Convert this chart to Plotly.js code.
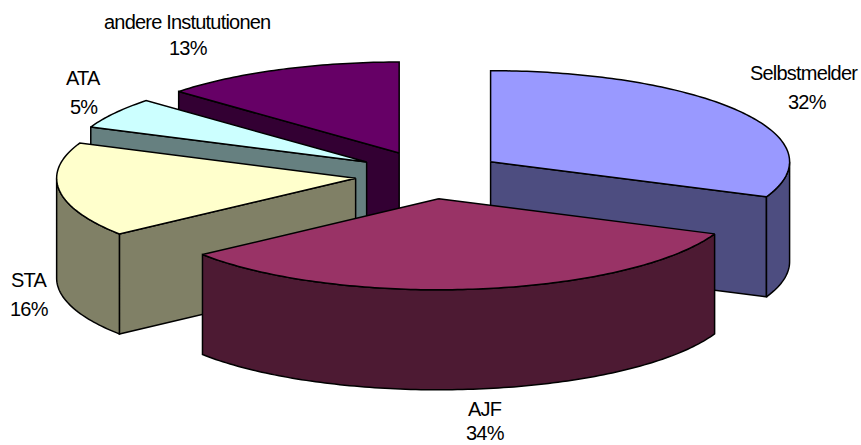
<!DOCTYPE html>
<html>
<head>
<meta charset="utf-8">
<script src="https://cdn.plot.ly/plotly-3.0.1.min.js"></script>
<style>
html,body{margin:0;padding:0;background:#fff}
#chart{width:861px;height:445px}
.annotation-text{letter-spacing:-0.8px}
</style>
</head>
<body>
<div id="chart"></div>
<script>
// Chart content
var categories = ["Selbstmelder", "AJF", "STA", "ATA", "andere Instututionen"];
var printedPercent = ["32%", "34%", "16%", "5%", "13%"];
var sliceShares = [31.3, 33.2, 16.8, 5.5, 13.2];
var topColors = ["#9999FF", "#993366", "#FFFFCC", "#CCFFFF", "#660066"];
var wallColors = ["#4D4D80", "#4D1A33", "#808066", "#668080", "#330033"];

// Projection of the tilted, exploded pie onto the plot scale
var pie = {cx: 429, cy: 175, rx: 299, ry: 91, depth: 100, explodeX: 74, explodeY: 24};
// Label anchors: [name x, name y, percent x, percent y]
var labelSpots = [[804, 73, 807, 102], [485, 409, 485, 433], [29, 280, 29, 309], [83, 78, 84, 107], [187, 22, 188, 48]];

var rad = Math.PI / 180;
function rim(c, deg, dy) {
  return [c[0] + pie.rx * Math.sin(deg * rad), c[1] - pie.ry * Math.cos(deg * rad) + (dy || 0)];
}
function polyTrace(pts, color) {
  var xs = pts.map(function (p) { return p[0]; });
  var ys = pts.map(function (p) { return p[1]; });
  xs.push(xs[0]); ys.push(ys[0]);
  return {
    type: "scatter", mode: "lines", x: xs, y: ys, fill: "toself", fillcolor: color,
    line: {color: "#000", width: 1.5, simplify: false}, hoverinfo: "skip", showlegend: false
  };
}
function arc(c, a, b, dy) {
  var pts = [], n = Math.max(2, Math.ceil(Math.abs(b - a)));
  for (var i = 0; i <= n; i++) pts.push(rim(c, a + (b - a) * i / n, dy));
  return pts;
}

var total = sliceShares.reduce(function (s, v) { return s + v; }, 0);
var start = 0;
var slices = sliceShares.map(function (v, i) {
  var sweep = v / total * 360, a = start, b = start + sweep, mid = a + sweep / 2;
  start = b;
  return {
    i: i, a: a, b: b, mid: mid,
    c: [pie.cx + pie.explodeX * Math.sin(mid * rad), pie.cy - pie.explodeY * Math.cos(mid * rad)]
  };
});
// Paint from the back of the pie to the front
slices.sort(function (p, q) { return Math.cos(q.mid * rad) - Math.cos(p.mid * rad); });

var traces = [];
slices.forEach(function (s) {
  var wall = wallColors[s.i], d = pie.depth;
  function radialWall(deg) {
    var r = rim(s.c, deg);
    traces.push(polyTrace([s.c, r, [r[0], r[1] + d], [s.c[0], s.c[1] + d]], wall));
  }
  if (Math.cos((s.a - 90) * rad) < -1e-6) radialWall(s.a);
  if (Math.cos((s.b + 90) * rad) < -1e-6) radialWall(s.b);
  var lo = Math.max(s.a, 90), hi = Math.min(s.b, 270);
  if (hi > lo) {
    traces.push(polyTrace(arc(s.c, lo, hi, 0).concat(arc(s.c, hi, lo, d)), wall));
  }
  traces.push(polyTrace([s.c].concat(arc(s.c, s.a, s.b, 0)), topColors[s.i]));
});

var annotations = [];
var labelFont = {family: "'Liberation Sans', Arial, sans-serif", size: 20, color: "#000"};
categories.forEach(function (name, i) {
  var spot = labelSpots[i];
  annotations.push({x: spot[0], y: spot[1], xref: "x", yref: "y", text: name, showarrow: false,
    xanchor: "center", yanchor: "middle", font: labelFont});
  annotations.push({x: spot[2], y: spot[3], xref: "x", yref: "y", text: printedPercent[i], showarrow: false,
    xanchor: "center", yanchor: "middle", font: labelFont});
});

Plotly.newPlot("chart", traces, {
  width: 861, height: 445,
  margin: {l: 0, r: 0, t: 0, b: 0},
  paper_bgcolor: "#fff", plot_bgcolor: "#fff",
  showlegend: false,
  xaxis: {range: [0, 861], visible: false, fixedrange: true},
  yaxis: {range: [445, 0], visible: false, fixedrange: true},
  annotations: annotations
}, {displayModeBar: false, staticPlot: true});
</script>
</body>
</html>
